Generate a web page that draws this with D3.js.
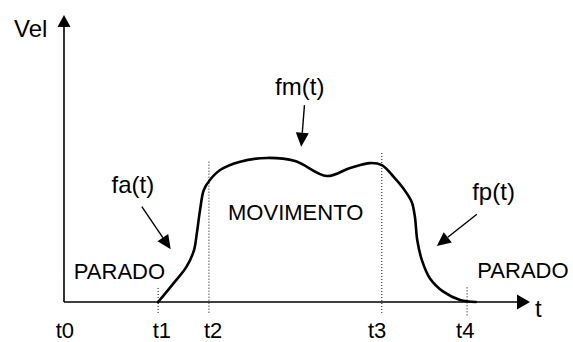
<!DOCTYPE html>
<html>
<head>
<meta charset="utf-8">
<script src="https://cdn.jsdelivr.net/npm/d3@7"></script>
<style>
  html, body { margin: 0; padding: 0; background: #fff; }
  svg { display: block; }
  text { font-family: Arial, "Liberation Sans", sans-serif; fill: #000; }
</style>
</head>
<body>
<svg id="chart" width="573" height="342"></svg>
<script>
// Velocity profile over time (arbitrary units: time 0..100, velocity 0..100)
const profileTime = [20.2, 23.5, 26.3, 27.9, 28.5, 29.2, 30.0, 31.3, 33.5, 37.8, 43.6, 49.6, 56.4, 61.4, 65.7, 68.2, 70.7, 72.8, 74.6, 75.3, 75.8, 76.8, 78.5, 81.4, 85.0, 88.4];
const profileVel  = [0.0, 6.5, 12.3, 18.1, 23.9, 32.1, 39.0, 42.5, 46.0, 48.9, 50.2, 49.1, 43.9, 46.7, 48.4, 47.7, 43.7, 39.6, 34.9, 29.7, 21.6, 14.6, 8.3, 3.6, 0.7, 0.0];

// Phase boundaries: time, top of the guide line, bottom of the guide line
const eventNames   = ["t1", "t2", "t3", "t4"];
const eventTime    = [20.2, 31.1, 68.2, 86.5];
const eventTopVel  = [4.9, 48.9, 51.9, 5.1];
const eventLowVel  = [-4.5, -3.8, -3.8, -5.0];

// Time labels under the axis
const tickLabels = ["t0", "t1", "t2", "t3", "t4"];
const tickTime   = [0.2, 21.0, 32.0, 67.2, 86.1];

// Phase names
const phaseNames = ["PARADO", "MOVIMENTO", "PARADO"];
const phaseTime  = [2.1, 35.2, 88.7];
const phaseVel   = [8.0, 28.6, 8.2];

// Function callouts with their pointer arrows
const fnNames    = ["fa(t)", "fm(t)", "fp(t)"];
const fnTextTime = [10.2, 45.3, 87.6];
const fnTextVel  = [38.0, 72.1, 35.5];
const fnFromTime = [16.7, 51.6, 88.6];
const fnFromVel  = [33.2, 68.6, 30.6];
const fnToTime   = [22.9, 50.9, 80.0];
const fnToVel    = [18.4, 54.1, 19.5];

const svg = d3.select("#chart");
const x = d3.scaleLinear().domain([0, 100]).range([64, 530]);
const y = d3.scaleLinear().domain([0, 100]).range([302, 15]);

// Draws a line ending in a filled triangular head
function arrow(g, x1, y1, x2, y2, headLen, headHalf, width) {
  const ang = Math.atan2(y2 - y1, x2 - x1);
  const bx = x2 - headLen * Math.cos(ang), by = y2 - headLen * Math.sin(ang);
  g.append("line")
    .attr("x1", x1).attr("y1", y1).attr("x2", bx).attr("y2", by)
    .attr("stroke", "#000").attr("stroke-width", width);
  const px = -Math.sin(ang) * headHalf, py = Math.cos(ang) * headHalf;
  g.append("path")
    .attr("d", `M${x2},${y2}L${bx + px},${by + py}L${bx - px},${by - py}Z`)
    .attr("fill", "#000");
}

// Axes with arrowheads
const axes = svg.append("g");
arrow(axes, x(0), y(0), x(0), y(100), 12, 6.5, 1.6);
arrow(axes, x(0), y(0), x(100), y(0), 13, 7.5, 1.6);

axes.append("text").attr("x", x(0) - 50).attr("y", y(100) + 22)
  .attr("font-size", 24).text("Vel");
axes.append("text").attr("x", x(100) + 5).attr("y", y(0) + 15)
  .attr("font-size", 24).text("t");

// Dotted phase boundaries
svg.append("g").selectAll("line")
  .data(eventNames)
  .join("line")
  .attr("x1", (d, i) => x(eventTime[i])).attr("x2", (d, i) => x(eventTime[i]))
  .attr("y1", (d, i) => y(eventTopVel[i])).attr("y2", (d, i) => y(eventLowVel[i]))
  .attr("stroke", "#000").attr("stroke-width", 1)
  .attr("stroke-dasharray", "1,2");

// Time labels
svg.append("g").selectAll("text")
  .data(tickLabels)
  .join("text")
  .attr("x", (d, i) => x(tickTime[i]))
  .attr("y", 338)
  .attr("text-anchor", "middle")
  .attr("font-size", 22)
  .text(d => d);

// Velocity curve
const line = d3.line()
  .x(i => x(profileTime[i]))
  .y(i => y(profileVel[i]))
  .curve(d3.curveCatmullRom.alpha(0.5));
svg.append("path")
  .attr("d", line(d3.range(profileTime.length)))
  .attr("fill", "none").attr("stroke", "#000").attr("stroke-width", 2.6)
  .attr("stroke-linejoin", "round").attr("stroke-linecap", "round");

// Phase names
svg.append("g").selectAll("text")
  .data(phaseNames)
  .join("text")
  .attr("x", (d, i) => x(phaseTime[i]))
  .attr("y", (d, i) => y(phaseVel[i]))
  .attr("font-size", 22)
  .text(d => d);

// Function callouts
const callouts = svg.append("g");
fnNames.forEach((name, i) => {
  callouts.append("text")
    .attr("x", x(fnTextTime[i])).attr("y", y(fnTextVel[i]))
    .attr("font-size", 24).text(name);
  arrow(callouts, x(fnFromTime[i]), y(fnFromVel[i]), x(fnToTime[i]), y(fnToVel[i]), 14, 6.5, 1.4);
});
</script>
</body>
</html>
